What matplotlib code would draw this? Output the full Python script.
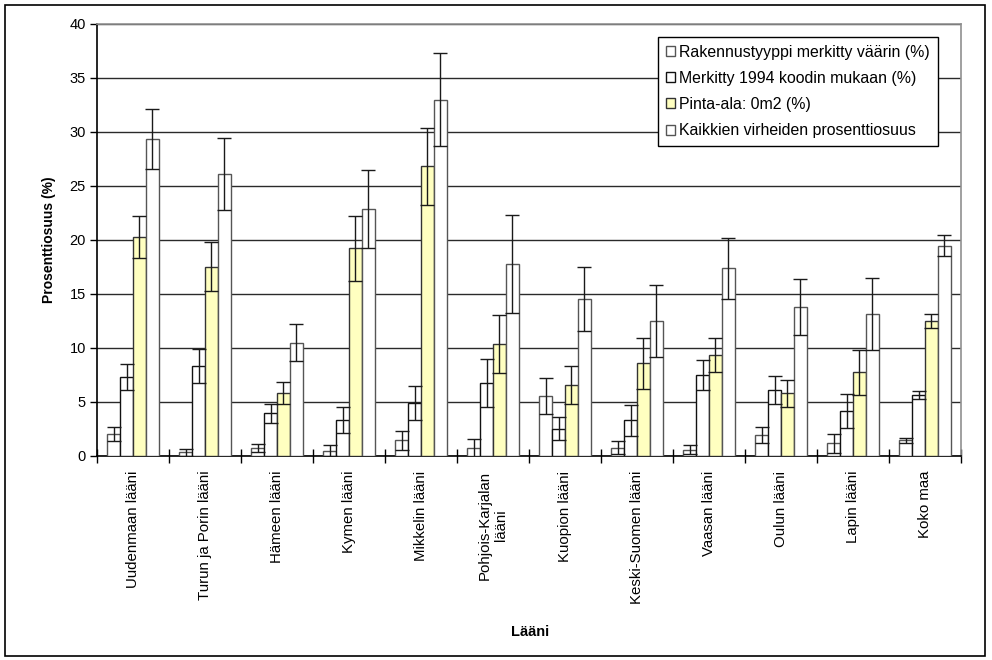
import matplotlib
matplotlib.use("Agg")
import matplotlib.pyplot as plt
import numpy as np

plt.rcParams['font.family'] = ['Liberation Sans', 'DejaVu Sans']

categories = ["Uudenmaan lääni", "Turun ja Porin lääni", "Hämeen lääni",
              "Kymen lääni", "Mikkelin lääni", "Pohjois-Karjalan\nlääni",
              "Kuopion lääni", "Keski-Suomen lääni", "Vaasan lääni",
              "Oulun lääni", "Lapin lääni", "Koko maa"]

series_names = ["Rakennustyyppi merkitty väärin (%)",
                "Merkitty 1994 koodin mukaan (%)",
                "Pinta-ala: 0m2 (%)",
                "Kaikkien virheiden prosenttiosuus"]

vaarin = [2.0, 0.3, 0.7, 0.45, 1.4, 0.7, 5.5, 0.7, 0.55, 1.9, 1.15, 1.4]
vaarin_err = [0.65, 0.3, 0.4, 0.5, 0.87, 0.8, 1.65, 0.6, 0.4, 0.7, 0.88, 0.2]

koodi1994 = [7.25, 8.3, 3.9, 3.25, 4.85, 6.7, 2.5, 3.25, 7.45, 6.1, 4.15, 5.6]
koodi1994_err = [1.2, 1.55, 0.9, 1.2, 1.55, 2.25, 1.1, 1.45, 1.4, 1.3, 1.58, 0.35]

pinta_ala = [20.25, 17.5, 5.8, 19.2, 26.8, 10.35, 6.55, 8.55, 9.3, 5.75, 7.7, 12.45]
pinta_ala_err = [1.95, 2.25, 1.05, 3.0, 3.55, 2.7, 1.75, 2.35, 1.6, 1.25, 2.1, 0.65]

kaikki = [29.35, 26.1, 10.45, 22.85, 33.0, 17.75, 14.5, 12.45, 17.35, 13.8, 13.1, 19.45]
kaikki_err = [2.75, 3.3, 1.73, 3.6, 4.3, 4.5, 3.0, 3.35, 2.85, 2.6, 3.35, 0.95]

values = [vaarin, koodi1994, pinta_ala, kaikki]
errors = [vaarin_err, koodi1994_err, pinta_ala_err, kaikki_err]
fills = ["white", "white", "#FFFFC0", "white"]
edges = ["#555555", "#111111", "#333333", "#555555"]

fig = plt.figure(figsize=(9.92, 6.6), dpi=100)

# outer chart frame
fig.patches.append(plt.Rectangle((5 / 992, 4 / 660), 980 / 992, 651 / 660,
                                 transform=fig.transFigure, fill=False,
                                 edgecolor="black", linewidth=1.2))

ax = fig.add_axes([97 / 992, (660 - 455.5) / 660, 864 / 992, 431.5 / 660])

n = len(categories)
x = np.arange(n)
bw = 0.18
offsets = (np.arange(4) - 1.5) * bw

for i in range(4):
    ax.bar(x + offsets[i], values[i], width=bw, color=fills[i],
           edgecolor=edges[i], linewidth=1.0, label=series_names[i], zorder=3)
    ax.errorbar(x + offsets[i], values[i], yerr=errors[i], fmt="none",
                ecolor="#1a1a1a", elinewidth=1.0, capsize=5, capthick=1.0,
                zorder=4)

ax.set_xlim(-0.5, n - 0.5)
ax.set_ylim(0, 40)
ax.set_yticks(np.arange(0, 41, 5))
ax.yaxis.grid(True, color="#2a2a2a", linewidth=1.0, zorder=0)
ax.set_axisbelow(True)

# category labels centred in each group, ticks at group boundaries
ax.set_xticks(np.arange(n + 1) - 0.5)
ax.set_xticklabels([])
ax.set_xticks(x, minor=True)
ax.set_xticklabels(categories, minor=True, rotation=90, fontsize=10.8,
                   va="top", ha="center", multialignment="center")
ax.tick_params(axis="x", which="major", direction="inout", length=10,
               width=1, color="black")
ax.tick_params(axis="x", which="minor", length=0, pad=11)
ax.tick_params(axis="y", direction="out", length=5, width=1, labelsize=10.5,
               pad=3)

for s in ["left", "bottom"]:
    ax.spines[s].set_color("black")
    ax.spines[s].set_linewidth(1.2)
for s in ["top", "right"]:
    ax.spines[s].set_color("#909090")
    ax.spines[s].set_linewidth(1.2)

ax.set_ylabel("Prosenttiosuus (%)", fontsize=10, fontweight="bold", labelpad=10)
fig.text(530 / 992, 1 - 632 / 660, "Lääni", fontsize=10.5, fontweight="bold",
         ha="center", va="center")

leg = ax.legend(loc="upper left", bbox_to_anchor=(0.649, 0.97),
                borderaxespad=0, fontsize=11.4, frameon=True, fancybox=False,
                edgecolor="black", framealpha=1, handlelength=0.6,
                handleheight=0.6, handletextpad=0.25, labelspacing=0.7,
                borderpad=0.5)
leg.get_frame().set_linewidth(1.0)
leg.set_zorder(10)

fig.savefig("out.png", dpi=100, facecolor="white")
